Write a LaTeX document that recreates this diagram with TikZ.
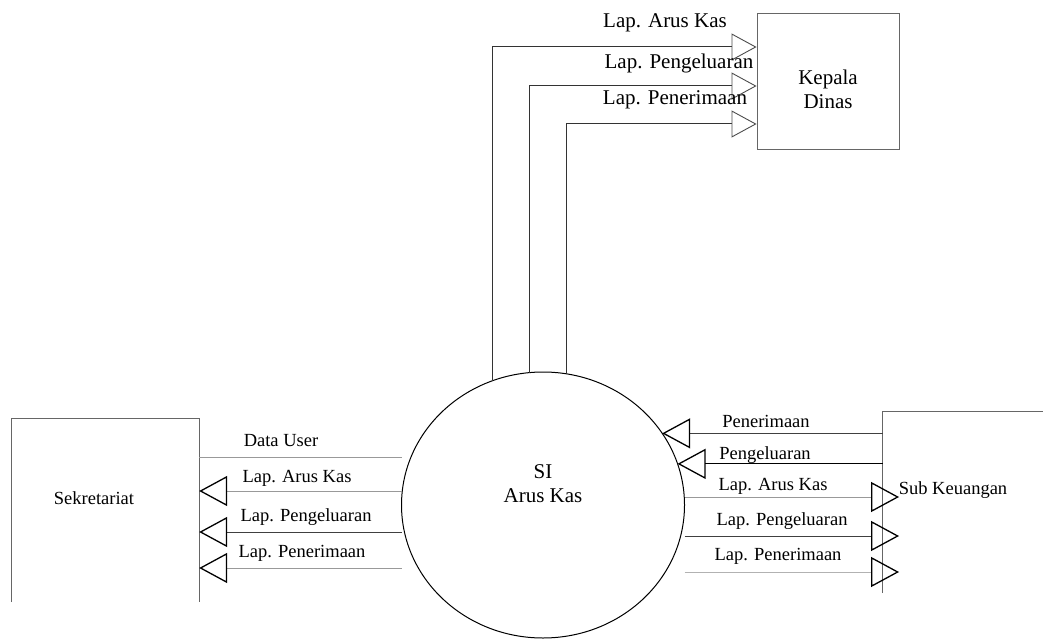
\documentclass[tikz,border=0pt]{standalone}
\usepackage{fontspec}
\setmainfont{Liberation Serif}
\usetikzlibrary{arrows.meta,shapes.geometric}
\begin{document}
\begin{tikzpicture}[x=1pt,y=-1pt,
    boxline/.style={draw=black!60,line width=0.9pt},
    flow/.style={line width=1pt,draw=black!40},
    lbl/.style={font=\fontsize{18.5}{21}\selectfont,inner sep=0pt},
    biglbl/.style={font=\fontsize{21}{24}\selectfont,inner sep=0pt,align=center},
    tri/.tip={Triangle[open,length=28pt,width=30pt,line width=1.3pt,color=black]},
    trig/.tip={Triangle[open,length=25pt,width=27pt,line width=0.9pt,color=black!70]}]
  \useasboundingbox (0,0) rectangle (1043,639);
  % entities
  \node[boxline,draw,minimum width=142pt,minimum height=136pt,inner sep=0pt] (kd) at (828,81) {};
  \node[biglbl] (kdtext) at (828,89) {Kepala\\Dinas};
  \node[minimum width=187pt,minimum height=183pt,inner sep=0pt] (sek) at (105.5,510.5) {};
  \draw[boxline] (sek.south west) |- (sek.north east) -- (sek.south east);
  \node[lbl] (sektext) at (94,498) {Sekretariat};
  \node[minimum width=170pt,minimum height=181pt,inner sep=0pt] (subk) at (968,502.5) {};
  \draw[boxline] (subk.south west) |- (subk.north east);
  \node[lbl] (subktext) at (953,490) {Sub Keuangan};
  \coordinate (skport) at (899,500);
  % process
  \node[ellipse,draw,line width=1pt,minimum width=283pt,minimum height=266pt,inner sep=0pt,outer sep=0pt] (si) at (543,505) {};
  \node[biglbl] (sitext) at (543,484) {SI\\Arus Kas};
  % to kepala dinas
  \draw[flow,draw=black!80,-trig] (si.112) |- (kd.west |- 0,47);
  \draw[flow,draw=black!80,-trig] (si.96) |- (kd.west |- 0,86);
  \draw[flow,draw=black!80,-trig] (si.80) |- (kd.west |- 0,124);
  \node[biglbl] (kd1) at (665,23) {Lap. Arus Kas};
  \node[biglbl] (kd2) at (679,63) {Lap. Pengeluaran};
  \node[biglbl] (kd3) at (675,100) {Lap. Penerimaan};
  % sekretariat
  \draw[flow] (sek.east |- 0,457) -- (si.west |- 0,457);
  \draw[flow,-tri] (si.west |- 0,491) -- (sek.east |- 0,491);
  \draw[flow,draw=black!75,-tri] (si.west |- 0,532) -- (sek.east |- 0,532);
  \draw[flow,-tri] (si.west |- 0,568) -- (sek.east |- 0,568);
  \node[lbl] (s1) at (281,441) {Data User};
  \node[lbl] (s2) at (297,478) {Lap. Arus Kas};
  \node[lbl] (s3) at (306,517) {Lap. Pengeluaran};
  \node[lbl] (s4) at (302,553) {Lap. Penerimaan};
  % sub keuangan
  \draw[flow,draw=black!75,-tri] (subk.west |- si.31) -- (si.31);
  \draw[flow,draw=black,-tri] (subk.west |- si.17) -- (si.17);
  \draw[flow,-tri] (si.east |- 0,497) -- (skport |- 0,497);
  \draw[flow,draw=black!75,-tri] (si.east |- 0,536) -- (skport |- 0,536);
  \draw[flow,draw=black!30,-tri] (si.east |- 0,572) -- (skport |- 0,572);
  \node[lbl] (k1) at (766,421) {Penerimaan};
  \node[lbl] (k2) at (765,455) {Pengeluaran};
  \node[lbl] (k3) at (773,486) {Lap. Arus Kas};
  \node[lbl] (k4) at (782,521) {Lap. Pengeluaran};
  \node[lbl] (k5) at (778,556) {Lap. Penerimaan};
\end{tikzpicture}
\end{document}
